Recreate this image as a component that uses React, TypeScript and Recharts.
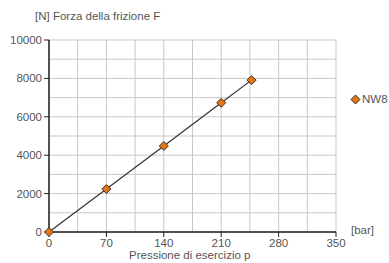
import React from "react";
import { ComposedChart, Line, XAxis, YAxis, CartesianGrid } from "recharts";

const pressure = [0, 70, 140, 210, 247];
const force = [0, 2240, 4480, 6730, 7910];
const xTicks = [0, 70, 140, 210, 280, 350];
const yTicks = [0, 2000, 4000, 6000, 8000, 10000];
const xGrid = [0, 35, 70, 105, 140, 175, 210, 245, 280, 315, 350];
const yGrid = [0, 1000, 2000, 3000, 4000, 5000, 6000, 7000, 8000, 9000, 10000];
const seriesName = "NW8";

const data = pressure.map((p, i) => ({ p, f: force[i] }));

const FONT = "'Liberation Sans', Arial, sans-serif";
const TXT = "#555";
const ORANGE = "#e8760f";

const Diamond = (props: any) => {
  const { cx, cy } = props;
  if (cx == null || cy == null) return null;
  const r = 4.5;
  return (
    <polygon
      points={`${cx},${cy - r} ${cx + r},${cy} ${cx},${cy + r} ${cx - r},${cy}`}
      fill={ORANGE}
      stroke="#333"
      strokeWidth={1}
    />
  );
};

export default function App() {
  return (
    <div style={{ position: "absolute", left: 0, top: 0, width: 389, height: 263, background: "#fff" }}>
      <ComposedChart
        width={389}
        height={263}
        data={data}
        margin={{ top: 40, right: 53, bottom: 0, left: 0 }}
      >
        <CartesianGrid
          stroke="#c8c8c8"
          strokeWidth={1}
          horizontalValues={yGrid}
          verticalValues={xGrid}
        />
        <XAxis
          dataKey="p"
          type="number"
          domain={[0, 350]}
          ticks={xTicks}
          interval={0}
          height={31}
          axisLine={{ stroke: "#222", strokeWidth: 1.5 }}
          tickLine={{ stroke: "#222" }}
          tickSize={5}
          tick={{ fill: TXT, fontSize: 11.5, fontFamily: FONT }}
        />
        <YAxis
          dataKey="f"
          type="number"
          domain={[0, 10000]}
          ticks={yTicks}
          interval={0}
          width={49}
          axisLine={{ stroke: "#222", strokeWidth: 1.5 }}
          tickLine={{ stroke: "#222" }}
          tickSize={5}
          tick={{ fill: TXT, fontSize: 11.5, fontFamily: FONT }}
        />
        <Line
          dataKey="f"
          name={seriesName}
          stroke="#333"
          strokeWidth={1.2}
          dot={<Diamond />}
          activeDot={false}
          isAnimationActive={false}
        />
      </ComposedChart>
      <div style={{ position: "absolute", left: 350, top: 93, display: "flex", alignItems: "center", fontFamily: FONT, fontSize: 11.5, color: TXT }}>
        <svg width={11} height={11} style={{ marginRight: 1 }}>
          <polygon points="5.5,1 10,5.5 5.5,10 1,5.5" fill={ORANGE} stroke="#333" strokeWidth={1} />
        </svg>
        <span>{seriesName}</span>
      </div>
      <div style={{ position: "absolute", left: 35, top: 10, fontFamily: FONT, fontSize: 11.5, color: TXT, whiteSpace: "nowrap" }}>
        [N] Forza della frizione F
      </div>
      <div style={{ position: "absolute", left: 351, top: 224, fontFamily: FONT, fontSize: 11.5, color: TXT, whiteSpace: "nowrap" }}>
        [bar]
      </div>
      <div style={{ position: "absolute", left: 129, top: 249, fontFamily: FONT, fontSize: 11.5, color: TXT, whiteSpace: "nowrap" }}>
        Pressione di esercizio p
      </div>
    </div>
  );
}
